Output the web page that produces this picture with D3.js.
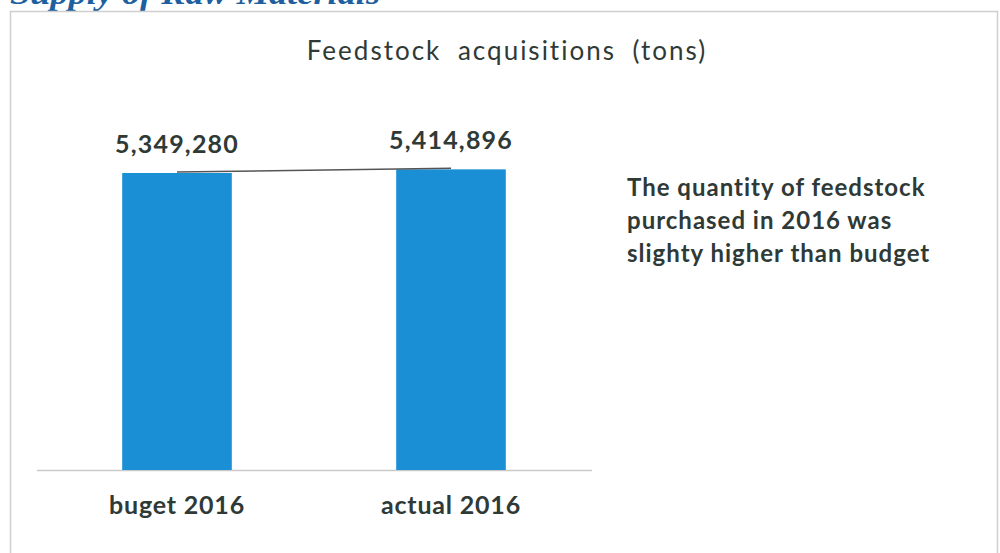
<!DOCTYPE html>
<html>
<head>
<meta charset="utf-8">
<style>
  body { margin: 0; background: #fff; }
  svg { display: block; }
</style>
</head>
<body>
<script src="https://d3js.org/d3.v7.min.js"></script>
<script>
// data
var categories = ["buget 2016", "actual 2016"];
var values = [5349280, 5414896];
var noteLines = ["The quantity of feedstock", "purchased in 2016 was", "slighty higher than budget"];

var width = 1000, height = 553;
var ink = "#2f3a37";

var svg = d3.select("body").append("svg")
    .attr("width", width)
    .attr("height", height);

// heading cut off at the top of the scan
svg.append("text")
    .attr("x", 10)
    .attr("y", 4)
    .attr("textLength", 370)
    .attr("lengthAdjust", "spacingAndGlyphs")
    .style("font-family", "Liberation Serif")
    .style("font-style", "italic")
    .style("font-weight", "bold")
    .style("font-size", "32px")
    .style("fill", "#1d5f9f")
    .text("Supply of Raw Materials");

// frame around the chart
svg.append("path")
    .attr("d", "M10.5," + height + "V11.5H997.5V" + height)
    .attr("fill", "none")
    .attr("stroke", "#cfcfcf")
    .attr("stroke-width", 1.5);

// title
svg.append("text")
    .attr("x", 507)
    .attr("y", 60)
    .attr("text-anchor", "middle")
    .style("font-family", "Lato")
    .style("font-size", "26px")
    .style("letter-spacing", "2px")
    .style("word-spacing", "8px")
    .style("fill", ink)
    .text("Feedstock acquisitions (tons)");

// scales
var x = d3.scaleBand()
    .domain(categories)
    .range([40, 588])
    .paddingInner(0.6)
    .paddingOuter(0.3);

var y = d3.scaleLinear()
    .domain([0, 6000000])
    .range([470, 470 - 6000000 * 297 / 5349280]);

// baseline
svg.append("line")
    .attr("x1", 37)
    .attr("x2", 592)
    .attr("y1", 470.5)
    .attr("y2", 470.5)
    .attr("stroke", "#c9c9c9")
    .attr("stroke-width", 1.5);

// bars
svg.selectAll("rect.bar")
    .data(values)
    .enter()
    .append("rect")
    .attr("class", "bar")
    .attr("x", function (d, i) { return x(categories[i]); })
    .attr("y", function (d) { return y(d); })
    .attr("width", x.bandwidth())
    .attr("height", function (d) { return y(0) - y(d); })
    .attr("fill", "#1a8fd6");

// thin line joining the bar tops
var line = d3.line()
    .x(function (d, i) { return x(categories[i]) + x.bandwidth() / 2; })
    .y(function (d) { return y(d) - 1; });

svg.append("path")
    .datum(values)
    .attr("d", line)
    .attr("fill", "none")
    .attr("stroke", "#555")
    .attr("stroke-width", 1.5);

// value labels
svg.selectAll("text.val")
    .data(values)
    .enter()
    .append("text")
    .attr("class", "val")
    .attr("x", function (d, i) { return x(categories[i]) + x.bandwidth() / 2; })
    .attr("y", function (d) { return y(d) - 20; })
    .attr("text-anchor", "middle")
    .style("font-family", "Lato")
    .style("font-weight", "bold")
    .style("font-size", "25px")
    .style("letter-spacing", "1.2px")
    .style("fill", ink)
    .text(function (d) { return d3.format(",")(d); });

// category labels
svg.selectAll("text.cat")
    .data(categories)
    .enter()
    .append("text")
    .attr("class", "cat")
    .attr("x", function (d) { return x(d) + x.bandwidth() / 2; })
    .attr("y", 514)
    .attr("text-anchor", "middle")
    .style("font-family", "Lato")
    .style("font-weight", "bold")
    .style("font-size", "25px")
    .style("letter-spacing", "0.8px")
    .style("fill", ink)
    .text(function (d) { return d; });

// note on the right
svg.selectAll("text.note")
    .data(noteLines)
    .enter()
    .append("text")
    .attr("class", "note")
    .attr("x", 627)
    .attr("y", function (d, i) { return 196 + i * 33; })
    .style("font-family", "Lato")
    .style("font-weight", "bold")
    .style("font-size", "24px")
    .style("letter-spacing", "1px")
    .style("fill", ink)
    .text(function (d) { return d; });
</script>
</body>
</html>
